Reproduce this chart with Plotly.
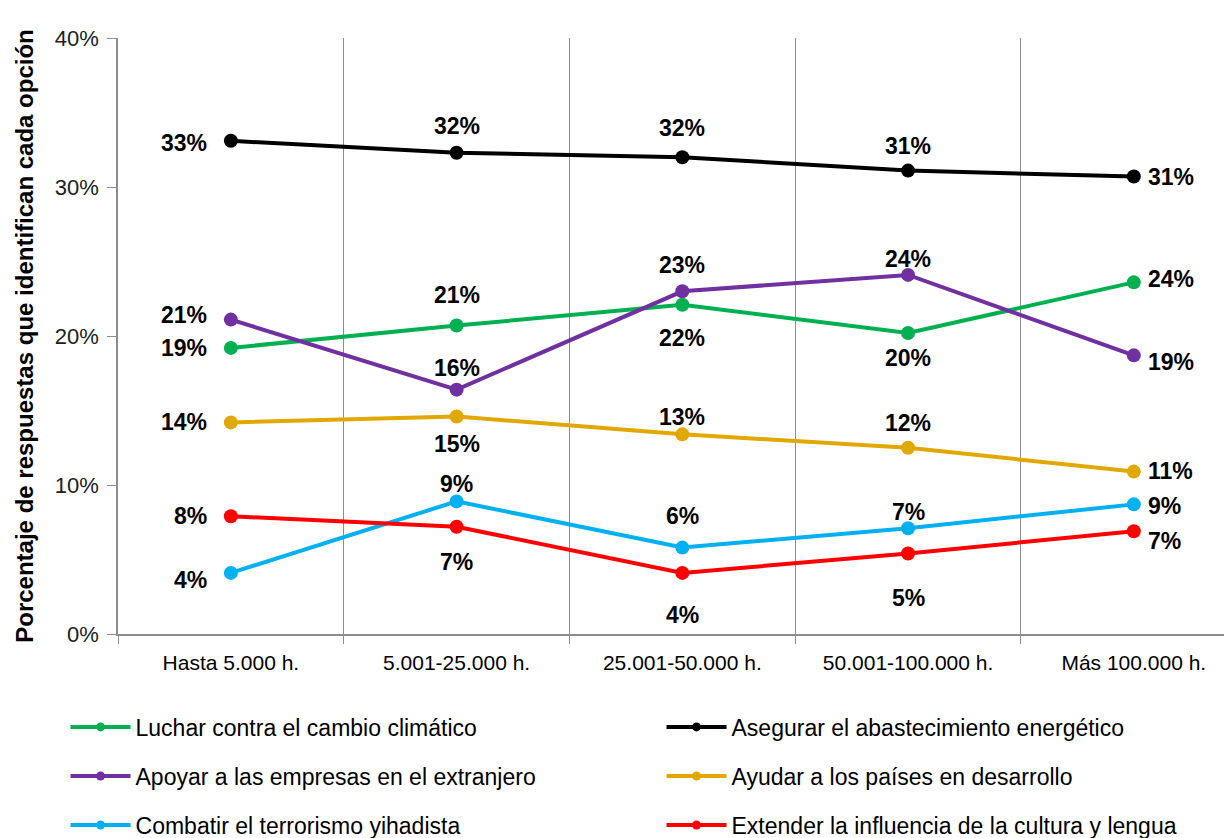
import plotly.graph_objects as go

categories = ["Hasta 5.000 h.", "5.001-25.000 h.", "25.001-50.000 h.", "50.001-100.000 h.", "Más 100.000 h."]

luchar = [19.2, 20.7, 22.1, 20.2, 23.6]
asegurar = [33.1, 32.3, 32.0, 31.1, 30.7]
apoyar = [21.1, 16.4, 23.0, 24.1, 18.7]
ayudar = [14.2, 14.6, 13.4, 12.5, 10.9]
combatir = [4.1, 8.9, 5.8, 7.1, 8.7]
extender = [7.9, 7.2, 4.1, 5.4, 6.9]

series_names = [
    "Luchar contra el cambio climático",
    "Asegurar el abastecimiento energético",
    "Apoyar a las empresas en el extranjero",
    "Ayudar a los países en desarrollo",
    "Combatir el terrorismo yihadista",
    "Extender la influencia de la cultura y lengua",
]
series_values = [luchar, asegurar, apoyar, ayudar, combatir, extender]
series_colors = ["#00B050", "#000000", "#7030A0", "#E0A800", "#00B0F0", "#FF0000"]

# legend layout: one legend box per entry, two columns x three rows
legend_ids = ["legend", "legend2", "legend3", "legend4", "legend5", "legend6"]
legend_cols = [-0.0471, 0.4879]
legend_rows_y = [-0.156, -0.2383, -0.3205]

# label placement style: vertical offsets in px (positive = down) for each point
label_dy = [
    [0, -31, 33, 25, -3],
    [2, -27, -29, -25, 0],
    [-5, -22, -26, -16, 7],
    [0, 28, -17, -25, -1],
    [7, -17, -32, -16, 2],
    [0, 35, 42, 44, 10],
]

xidx = list(range(len(categories)))
label_font = dict(family="Liberation Sans, Arial, sans-serif", size=23, color="#000000", weight="bold")

fig = go.Figure()
for name, vals, col, dys in zip(series_names, series_values, series_colors, label_dy):
    fig.add_trace(go.Scatter(
        x=xidx, y=vals, name=name, mode="lines+markers",
        line=dict(color=col, width=4),
        marker=dict(color=col, size=14),
        showlegend=False, cliponaxis=False, hoverinfo="x+y+name",
    ))
    n = len(vals)
    for i, (xv, v, dy) in enumerate(zip(xidx, vals, dys)):
        if i == 0:
            anchor, xs = "right", -22
        elif i == n - 1:
            anchor, xs = "left", 12
        else:
            anchor, xs = "center", 0
        fig.add_annotation(
            x=xv, y=v, xref="x", yref="y", text=f"{round(v):d}%",
            showarrow=False, xanchor=anchor, yanchor="middle",
            xshift=xs, yshift=-dy, font=label_font,
        )

# legend entries (legend-only traces, smaller markers as in the original)
for name, col, lg in zip(series_names, series_colors, legend_ids):
    fig.add_trace(go.Scatter(
        x=[None], y=[None], name=name, mode="lines+markers",
        line=dict(color=col, width=4), marker=dict(color=col, size=9),
        legend=lg, showlegend=True,
    ))

legend_font = dict(family="Liberation Sans, Arial, sans-serif", size=23, color="#000000")
legends = {}
for k, lg in enumerate(legend_ids):
    legends[lg] = dict(
        orientation="h", xref="paper", yref="paper",
        x=legend_cols[k % 2], y=legend_rows_y[k // 2],
        xanchor="left", yanchor="middle",
        font=legend_font, itemwidth=60, bgcolor="rgba(0,0,0,0)",
    )

fig.update_layout(
    width=1224, height=830,
    margin=dict(l=110, r=0, t=30, b=204, autoexpand=False),
    paper_bgcolor="white", plot_bgcolor="white",
    font=dict(family="Liberation Sans, Arial, sans-serif", color="#000000"),
    showlegend=True,
    **legends,
)
fig.update_xaxes(
    range=[-0.5, 4.435], tickmode="array", tickvals=xidx, ticktext=categories,
    showgrid=False, ticks="", showline=True, linecolor="#8c8c8c", linewidth=1.5,
    tickfont=dict(family="Liberation Sans, Arial, sans-serif", size=21, color="#000000"),
    minor=dict(tick0=0.5, dtick=1, showgrid=True, gridcolor="#8c8c8c", gridwidth=1,
               ticks="outside", ticklen=8, tickcolor="#8c8c8c"),
    zeroline=False, automargin=False, ticklabelstandoff=9,
)
fig.update_yaxes(
    range=[0, 40], tickvals=[0, 10, 20, 30, 40], ticktext=["0%", "10%", "20%", "30%", "40%"],
    showgrid=False, zeroline=False, showline=True, linecolor="#8c8c8c", linewidth=1.5,
    ticks="outside", ticklen=9, tickcolor="#8c8c8c", automargin=False, ticklabelstandoff=4,
    tickfont=dict(family="Liberation Sans, Arial, sans-serif", size=22, color="#202020"),
    title=dict(text="Porcentaje de respuestas que identifican cada opción",
               font=dict(family="Liberation Sans, Arial, sans-serif", size=24, color="#000000", weight="bold"),
               standoff=14),
)

fig.write_html("out.html")
